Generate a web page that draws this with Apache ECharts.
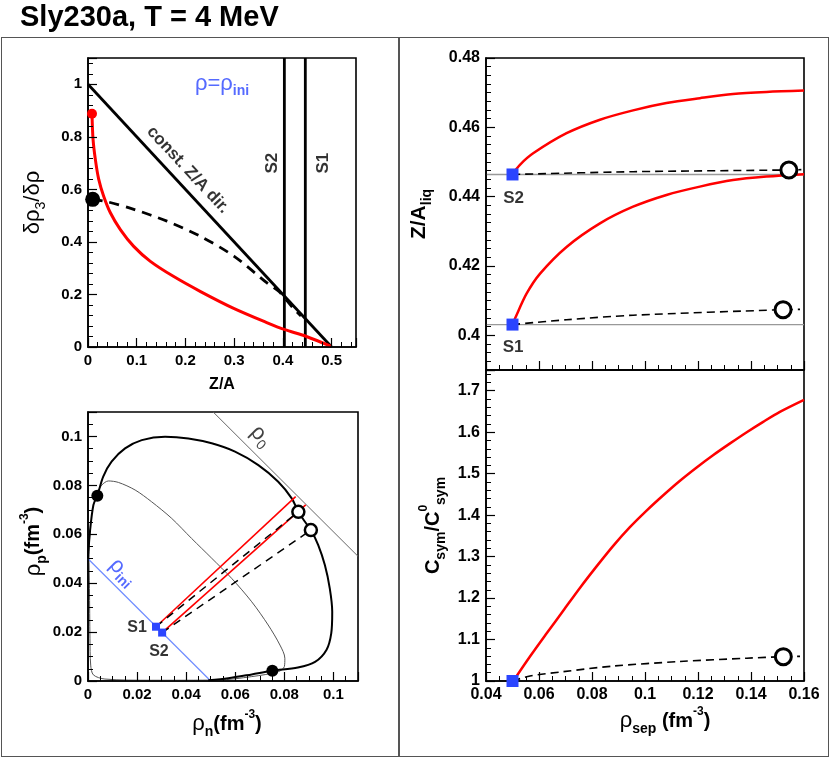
<!DOCTYPE html>
<html>
<head>
<meta charset="utf-8">
<title>Sly230a, T = 4 MeV</title>
<script src="https://cdn.jsdelivr.net/npm/echarts@6/dist/echarts.min.js"></script>
<style>
html, body { margin: 0; padding: 0; background: #fff; }
#wrap { position: relative; width: 830px; height: 758px; }
#chart { position: absolute; left: 0; top: 0; width: 830px; height: 758px; }
#title { position: absolute; left: 20px; top: 2px; z-index: 5; font: bold 29px "Liberation Sans", Arial, sans-serif; line-height: 29px; color: #000; white-space: nowrap; }
.pad { position: absolute; top: 37px; height: 720px; box-sizing: border-box; border: 1.5px solid #555; z-index: 5; pointer-events: none; }
#padL { left: 1px; width: 399px; }
#padR { left: 398px; width: 431px; }
</style>
</head>
<body>
<div id="wrap">
	<div id="chart"></div>
	<div id="title">Sly230a, T = 4 MeV</div>
	<div class="pad" id="padL"></div>
	<div class="pad" id="padR"></div>
</div>
<script>
var FONT = '"Liberation Sans", Arial, Helvetica, sans-serif';
var BLUE = '#2b45ff';
var RED = '#ff0000';

// ---- top-left pad : d rho3 / d rho vs Z/A, at rho = rho_ini
var constZaDir = [[0, 1], [0.5, 0]];
var zaS2 = 0.403;
var zaS1 = 0.446;
var dirRed = [[0.0082, 0.888], [0.0103, 0.792], [0.015, 0.715], [0.0219, 0.639], [0.032, 0.575],
	[0.0459, 0.511], [0.0664, 0.447], [0.0938, 0.383], [0.128, 0.326], [0.176, 0.268],
	[0.231, 0.211], [0.299, 0.147], [0.368, 0.092], [0.404, 0.066], [0.447, 0.041], [0.498, 0.003]];
var dirDash = [[0.0096, 0.562], [0.039, 0.553], [0.094, 0.524], [0.162, 0.479], [0.231, 0.421],
	[0.30, 0.345], [0.368, 0.243], [0.392, 0.211], [0.42, 0.15], [0.437, 0.118]];
var dirRedStart = [[0.0082, 0.888]];
var dirBlackStart = [[0.0096, 0.562]];

// ---- bottom-left pad : rho_p vs rho_n
var binodal = [[0.0, 0.0502], [0.0008, 0.0611], [0.0022, 0.072], [0.0038, 0.0758], [0.0062, 0.0836],
	[0.0096, 0.0897], [0.0151, 0.0951], [0.0219, 0.0985], [0.0314, 0.0999], [0.0409, 0.0992],
	[0.0504, 0.0972], [0.0599, 0.0938], [0.0694, 0.0883], [0.0775, 0.0815], [0.083, 0.0747],
	[0.0857, 0.0692], [0.0884, 0.0651], [0.0908, 0.0617], [0.0938, 0.0556], [0.0965, 0.0474],
	[0.0985, 0.0379], [0.0995, 0.0283], [0.0991, 0.0195], [0.0972, 0.0128], [0.0925, 0.0078],
	[0.0855, 0.0055], [0.0751, 0.0042], [0.0667, 0.0027], [0.0571, 0.0011], [0.049, 0.0003]];
var spinodal = [[0.0008, 0.0611], [0.0004, 0.0518], [0.0006, 0.0379], [0.0008, 0.0175], [0.0011, 0.0065],
	[0.0022, 0.0025], [0.0069, 0.0008], [0.0259, 0.0003], [0.0531, 0.0004], [0.0667, 0.0018],
	[0.0775, 0.0038], [0.08, 0.0059], [0.0802, 0.0093], [0.0782, 0.0147], [0.0734, 0.0229],
	[0.0667, 0.0324], [0.0585, 0.042], [0.0504, 0.0502], [0.0422, 0.0583], [0.0341, 0.0665],
	[0.0259, 0.0733], [0.0192, 0.0781], [0.0124, 0.0812], [0.0083, 0.0818], [0.0056, 0.0801],
	[0.0038, 0.077]];
var rho0Line = [[0.051, 0.11], [0.11, 0.051]];
var rhoIniLine = [[0, 0.05], [0.05, 0]];
var startS1 = [0.0277, 0.0222];
var startS2 = [0.0302, 0.0198];
var redEndS1 = [0.0846, 0.0754];
var redEndS2 = [0.0887, 0.072];
var openEndS1 = [0.0857, 0.0692];
var openEndS2 = [0.0908, 0.0617];
var blackDots = [[0.0038, 0.0758], [0.0751, 0.0042]];

// ---- top-right pad : Z/A_liq vs rho_sep
var zaLiqS2 = 0.4464;
var zaLiqS1 = 0.4031;
var liqRedS2 = [[0.0499, 0.4464], [0.0528, 0.4492], [0.0578, 0.4525], [0.0704, 0.4583], [0.083, 0.4622],
	[0.0955, 0.4649], [0.1081, 0.467], [0.1207, 0.4684], [0.1332, 0.4696], [0.1458, 0.4702], [0.16, 0.4706]];
var liqRedS1 = [[0.0499, 0.4031], [0.0509, 0.4048], [0.0553, 0.412], [0.0604, 0.4178], [0.0704, 0.4255],
	[0.083, 0.4323], [0.0955, 0.4371], [0.1081, 0.4405], [0.1207, 0.4429], [0.1332, 0.4448],
	[0.1458, 0.4458], [0.16, 0.4465]];
var liqDashS2 = [[0.0499, 0.4464], [0.0955, 0.4472], [0.1543, 0.4477], [0.159, 0.4478]];
var liqDashS1 = [[0.0499, 0.4031], [0.0704, 0.4045], [0.0955, 0.4058], [0.1521, 0.4074], [0.1585, 0.4075]];
var liqOpen = [[0.1543, 0.4477], [0.1521, 0.4074]];
var liqStart = [[0.05, 0.4464], [0.05, 0.4031]];

// ---- bottom-right pad : Csym/C0sym vs rho_sep
var csymRed = [[0.0503, 1.0], [0.0566, 1.059], [0.0629, 1.115], [0.0692, 1.17], [0.0755, 1.225],
	[0.0818, 1.277], [0.088, 1.326], [0.0943, 1.371], [0.1006, 1.411], [0.1069, 1.448],
	[0.1132, 1.483], [0.1195, 1.515], [0.1258, 1.545], [0.1321, 1.573], [0.1384, 1.6],
	[0.1446, 1.625], [0.1509, 1.649], [0.16, 1.678]];
var csymDash = [[0.05, 1.0], [0.0566, 1.012], [0.0692, 1.0225], [0.088, 1.036], [0.1132, 1.047],
	[0.1384, 1.055], [0.1522, 1.0586], [0.1585, 1.0595]];
var csymOpen = [[0.1522, 1.0586]];
var csymStart = [[0.05, 1.0]];

function makeAxis(gi, min, max, step, minor, fontSize) {
	return {
		type: 'value',
		gridIndex: gi,
		min: min,
		max: max,
		minInterval: step,
		maxInterval: step,
		z: 6,
		axisLine: { show: true, onZero: false, lineStyle: { color: '#000', width: 1.6 } },
		splitLine: { show: false },
		axisTick: { show: true, inside: true, length: 9, lineStyle: { color: '#000', width: 1.2, opacity: 1 } },
		minorTick: { show: true, splitNumber: minor, length: 5, lineStyle: { color: '#000', width: 1, opacity: 1 } },
		axisLabel: { show: true, color: '#000', fontFamily: FONT, fontWeight: 'bold', fontSize: fontSize, margin: 6 },
		nameLocation: 'middle'
	};
}

function nameRich(big) {
	return {
		g: { fontFamily: FONT, fontSize: big, color: '#000', lineHeight: 30 },
		b: { fontFamily: FONT, fontSize: big - 2, fontWeight: 'bold', color: '#000', lineHeight: 30 },
		s: { fontFamily: FONT, fontSize: 14, fontWeight: 'bold', color: '#000', lineHeight: 14, verticalAlign: 'bottom' },
		n: { fontFamily: FONT, fontSize: 14, color: '#000', lineHeight: 14, verticalAlign: 'bottom' },
		u: { fontFamily: FONT, fontSize: 12, fontWeight: 'bold', color: '#000', lineHeight: 12, verticalAlign: 'top' }
	};
}

function line(gi, data, color, width, type, smooth, z) {
	return {
		type: 'line', xAxisIndex: gi, yAxisIndex: gi, data: data,
		symbol: 'none', smooth: smooth || false, silent: true, z: z || 2,
		lineStyle: { color: color, width: width, type: type || 'solid' }
	};
}

function dots(gi, data, symbol, size, fill, stroke, bw) {
	return {
		type: 'scatter', xAxisIndex: gi, yAxisIndex: gi, data: data,
		symbol: symbol, symbolSize: size, silent: true, z: 10,
		itemStyle: { color: fill, borderColor: stroke || fill, borderWidth: bw || 0, opacity: 1 }
	};
}

function textMark(gi, pos, text, rotate, rich) {
	return {
		type: 'scatter', xAxisIndex: gi, yAxisIndex: gi, data: [pos],
		symbolSize: 1, silent: true, z: 20,
		itemStyle: { color: 'rgba(0,0,0,0)' },
		label: {
			show: true, position: 'inside', formatter: text, rotate: rotate || 0,
			color: '#000', rich: rich
		}
	};
}

function cal_option() {
	var xs = [
		makeAxis(0, 0, 0.55, 0.1, 5, 15),
		makeAxis(1, 0, 0.11, 0.02, 4, 15),
		makeAxis(2, 0.04, 0.16, 0.02, 4, 16),
		makeAxis(3, 0.04, 0.16, 0.02, 4, 16)
	];
	var ys = [
		makeAxis(0, 0, 1.1, 0.2, 5, 15),
		makeAxis(1, 0, 0.11, 0.02, 4, 15),
		makeAxis(2, 0.39, 0.48, 0.02, 8, 16),
		makeAxis(3, 1, 1.75, 0.1, 5, 16)
	];
	xs[0].axisLabel.showMaxLabel = false;
	ys[0].axisLabel.showMaxLabel = false;
	xs[1].axisLabel.showMaxLabel = false;
	ys[1].axisLabel.showMaxLabel = false;
	ys[2].axisLabel.showMinLabel = false;
	ys[3].axisLabel.showMaxLabel = false;
	xs[2].axisLabel.show = false;

	xs[0].name = '{b|Z/A}';
	xs[0].nameGap = 30;
	xs[0].nameTextStyle = { rich: { b: { fontFamily: FONT, fontSize: 16, fontWeight: 'bold', color: '#000' } } };
	ys[0].name = '{g|δρ}{n|3}{g|/δρ}';
	ys[0].nameGap = 40;
	ys[0].nameRotate = 90;
	ys[0].nameTextStyle = { rich: nameRich(22) };

	xs[1].name = '{g|ρ}{s|n}{b|(fm}{u|-3}{b|)}';
	xs[1].nameGap = 28;
	xs[1].nameTextStyle = { rich: nameRich(22), padding: [0, 0, 0, 8] };
	ys[1].name = '{g|ρ}{s|p}{b|(fm}{u|-3}{b|)}';
	ys[1].nameGap = 35;
	ys[1].nameRotate = 90;
	ys[1].nameTextStyle = { rich: nameRich(22), padding: [0, 0, 0, 10] };

	ys[2].name = '{b|Z/A}{s|liq}';
	ys[2].nameGap = 52;
	ys[2].nameRotate = 90;
	ys[2].nameTextStyle = { rich: nameRich(23) };

	xs[3].name = '{g|ρ}{s|sep}{b| (fm}{u|-3}{b|)}';
	xs[3].nameGap = 25;
	xs[3].nameTextStyle = { rich: nameRich(22), padding: [0, 0, 0, 40] };
	ys[3].name = '{b|C}{s|sym}{b|/C}{u|0}{s|sym}';
	ys[3].nameGap = 38;
	ys[3].nameRotate = 90;
	ys[3].nameTextStyle = { rich: nameRich(22) };

	var blueRich = {
		g: { fontFamily: FONT, fontSize: 22, color: BLUE, lineHeight: 28 },
		s: { fontFamily: FONT, fontSize: 14, fontWeight: 'bold', color: BLUE, lineHeight: 14, verticalAlign: 'bottom' }
	};
	var blackRich = {
		g: { fontFamily: FONT, fontSize: 22, color: '#111', lineHeight: 28 },
		s: { fontFamily: FONT, fontSize: 14, color: '#111', lineHeight: 14, verticalAlign: 'bottom' },
		b: { fontFamily: FONT, fontSize: 17, fontWeight: 'bold', color: '#000' },
		c: { fontFamily: FONT, fontSize: 16, fontWeight: 'bold', color: '#000' }
	};

	var series = [
		// top-left
		line(0, constZaDir, '#000', 2.8),
		line(0, [[zaS2, 0], [zaS2, 1.1]], '#000', 2.8),
		line(0, [[zaS1, 0], [zaS1, 1.1]], '#000', 2.8),
		line(0, dirRed, RED, 3, 'solid', 0.3, 3),
		line(0, dirDash, '#000', 2.8, [10, 7], 0.3, 3),
		dots(0, dirRedStart, 'circle', 10, RED),
		dots(0, dirBlackStart, 'circle', 15, '#000'),
		textMark(0, [0.275, 1.0], '{g|ρ=ρ}{s|ini}', 0, blueRich),
		textMark(0, [0.205, 0.674], '{b|const. Z/A dir.}', -47, blackRich),
		textMark(0, [0.3776, 0.70], '{b|S2}', 90, blackRich),
		textMark(0, [0.4823, 0.70], '{b|S1}', 90, blackRich),

		// bottom-left
		line(1, spinodal, '#555', 1, 'solid', 0.3),
		line(1, binodal, '#000', 2, 'solid', 0.3, 3),
		line(1, rho0Line, '#666', 1),
		line(1, rhoIniLine, '#6f8cff', 1.2),
		line(1, [startS1, redEndS1], RED, 1.6, 'solid', false, 4),
		line(1, [startS2, redEndS2], RED, 1.6, 'solid', false, 4),
		line(1, [startS1, openEndS1], '#000', 1.5, [8, 6], false, 4),
		line(1, [startS2, openEndS2], '#000', 1.5, [8, 6], false, 4),
		dots(1, blackDots, 'circle', 12, '#000'),
		dots(1, [openEndS1, openEndS2], 'circle', 12, '#fff', '#000', 2.5),
		dots(1, [startS1, startS2], 'rect', 8, BLUE),
		textMark(1, [0.0705, 0.1002], '{g|ρ}{s|0}', -45, blackRich),
		textMark(1, [0.0143, 0.0446], '{g|ρ}{s|ini}', -45, blueRich),
		textMark(1, [0.02, 0.0217], '{c|S1}', 0, blackRich),
		textMark(1, [0.0289, 0.0119], '{c|S2}', 0, blackRich),

		// top-right
		line(2, [[0.04, zaLiqS2], [0.16, zaLiqS2]], '#999', 1.3),
		line(2, [[0.04, zaLiqS1], [0.16, zaLiqS1]], '#999', 1.3),
		line(2, liqRedS2, RED, 2.5, 'solid', 0.3, 3),
		line(2, liqRedS1, RED, 2.5, 'solid', 0.3, 3),
		line(2, liqDashS2, '#000', 1.6, [8, 5], 0.3, 3),
		line(2, liqDashS1, '#000', 1.6, [8, 5], 0.3, 3),
		dots(2, liqOpen, 'circle', 16, '#fff', '#000', 3),
		dots(2, liqStart, 'rect', 12, BLUE),
		textMark(2, [0.0504, 0.4396], '{b|S2}', 0, blackRich),
		textMark(2, [0.0502, 0.3965], '{b|S1}', 0, blackRich),

		// bottom-right
		line(3, csymRed, RED, 2.5, 'solid', 0.3, 3),
		line(3, csymDash, '#000', 1.6, [8, 5], 0.3, 3),
		dots(3, csymOpen, 'circle', 16, '#fff', '#000', 3),
		dots(3, csymStart, 'rect', 12, BLUE)
	];

	var option = {
		animation: false,
		grid: [
			{ left: 88, top: 58, width: 268, height: 289, show: true, borderColor: '#000', borderWidth: 1.6 },
			{ left: 88, top: 412, width: 270, height: 269, show: true, borderColor: '#000', borderWidth: 1.6 },
			{ left: 486, top: 58, width: 318, height: 312, show: true, borderColor: '#000', borderWidth: 1.6 },
			{ left: 486, top: 370, width: 318, height: 311, show: true, borderColor: '#000', borderWidth: 1.6 }
		],
		xAxis: xs,
		yAxis: ys,
		series: series
	};
	return option;
}

var myChart = echarts.init(document.getElementById('chart'));
myChart.setOption(cal_option());
</script>
</body>
</html>
